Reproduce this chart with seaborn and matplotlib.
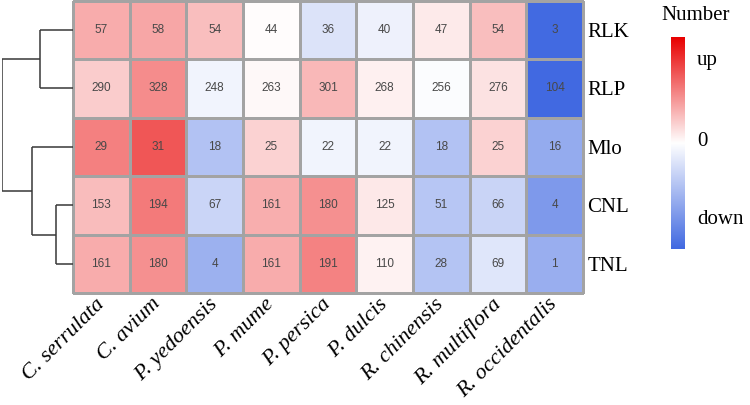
import numpy as np
import pandas as pd
import matplotlib
matplotlib.use("Agg")
import matplotlib.pyplot as plt
import seaborn as sns
from matplotlib.colors import LinearSegmentedColormap

# ---------------- data ----------------
species = ["C. serrulata", "C. avium", "P. yedoensis", "P. mume", "P. persica",
           "P. dulcis", "R. chinensis", "R. multiflora", "R. occidentalis"]
families = ["RLK", "RLP", "Mlo", "CNL", "TNL"]
rlk = [57, 58, 54, 44, 36, 40, 47, 54, 3]
rlp = [290, 328, 248, 263, 301, 268, 256, 276, 104]
mlo = [29, 31, 18, 25, 22, 22, 18, 25, 16]
cnl = [153, 194, 67, 161, 180, 125, 51, 66, 4]
tnl = [161, 180, 4, 161, 191, 110, 28, 69, 1]
legend_labels = ["up", "0", "down"]

counts = pd.DataFrame([rlk, rlp, mlo, cnl, tnl], index=families, columns=species)
# row scaling (as pheatmap scale="row")
z = counts.sub(counts.mean(axis=1), axis=0).div(counts.std(axis=1), axis=0)


def complete_linkage(X):
    D = np.sqrt(((X[:, None, :] - X[None, :, :]) ** 2).sum(-1))
    clusters = {i: [i] for i in range(len(X))}
    merges = []
    nid = len(X)
    while len(clusters) > 1:
        keys = list(clusters)
        best = None
        for i in range(len(keys)):
            for j in range(i + 1, len(keys)):
                a, b = keys[i], keys[j]
                d = D[np.ix_(clusters[a], clusters[b])].max()
                if best is None or d < best[0]:
                    best = (d, a, b)
        d, a, b = best
        merges.append((a, b, d, nid))
        clusters[nid] = clusters.pop(a) + clusters.pop(b)
        nid += 1
    return merges


merges = complete_linkage(z.values)

# ---------------- figure ----------------
W, H = 750, 405
fig = plt.figure(figsize=(W / 100, H / 100), dpi=100)
serif = ["Liberation Serif", "DejaVu Serif"]

def px_axes(x0, y0, x1, y1):
    return fig.add_axes([x0 / W, 1 - y1 / H, (x1 - x0) / W, (y1 - y0) / H])

ax = px_axes(73, 0.5, 583, 293)
cmap = LinearSegmentedColormap.from_list("bwr2", ["#4169E1", "#FFFFFF", "#E80000"])
sns.heatmap(z, cmap=cmap, vmin=-2.4, vmax=2.4, annot=counts, fmt="d",
            linewidths=0.75, linecolor="#A3A3A3", cbar=False, ax=ax,
            annot_kws=dict(size=8.5, color="#484848", family="Liberation Sans"))
ax.collections[0].set_clip_on(False)
ax.set_xlabel("")
ax.set_ylabel("")
ax.yaxis.tick_right()
ax.set_yticks(np.arange(len(families)) + 0.5)
ax.set_yticklabels(families, rotation=0, fontsize=15, family=serif)
ax.tick_params(axis="y", length=0, pad=3)
ax.set_xticks(np.arange(len(species)) + 0.5)
ax.set_xticklabels(species, rotation=45, ha="right", va="center",
                   rotation_mode="anchor", fontsize=16, style="italic",
                   family=serif)
ax.tick_params(axis="x", length=0, pad=6)

# dendrogram
dax = px_axes(2, 0.5, 73, 293)
pos = {i: i + 0.5 for i in range(len(families))}
hgt = {i: 0.0 for i in range(len(families))}
for a, b, d, n in merges:
    for c in (a, b):
        dax.plot([hgt[c], d], [pos[c], pos[c]], color="#383838", lw=1.1,
                 solid_capstyle="butt")
    dax.plot([d, d], [pos[a], pos[b]], color="#383838", lw=1.1, solid_capstyle="butt")
    pos[n] = (pos[a] + pos[b]) / 2
    hgt[n] = d
root_h = merges[-1][2]
dax.set_xlim(root_h, 0)
dax.set_ylim(len(families), 0)
dax.axis("off")

# colorbar legend
cax = px_axes(671, 37, 685, 249)
grad = np.linspace(1, -1, 256)[:, None]
cax.imshow(grad, aspect="auto", cmap=cmap, vmin=-1, vmax=1)
cax.set_xticks([])
cax.set_yticks([])
for s in cax.spines.values():
    s.set_visible(False)
fig.text(661 / W, 1 - 15 / H, "Number", ha="left", va="center", fontsize=15, family=serif)
for lab, yy in zip(legend_labels, [60, 142, 220]):
    fig.text(697 / W, 1 - yy / H, lab, ha="left", va="center", fontsize=15, family=serif)

fig.savefig("out.png", dpi=100)
